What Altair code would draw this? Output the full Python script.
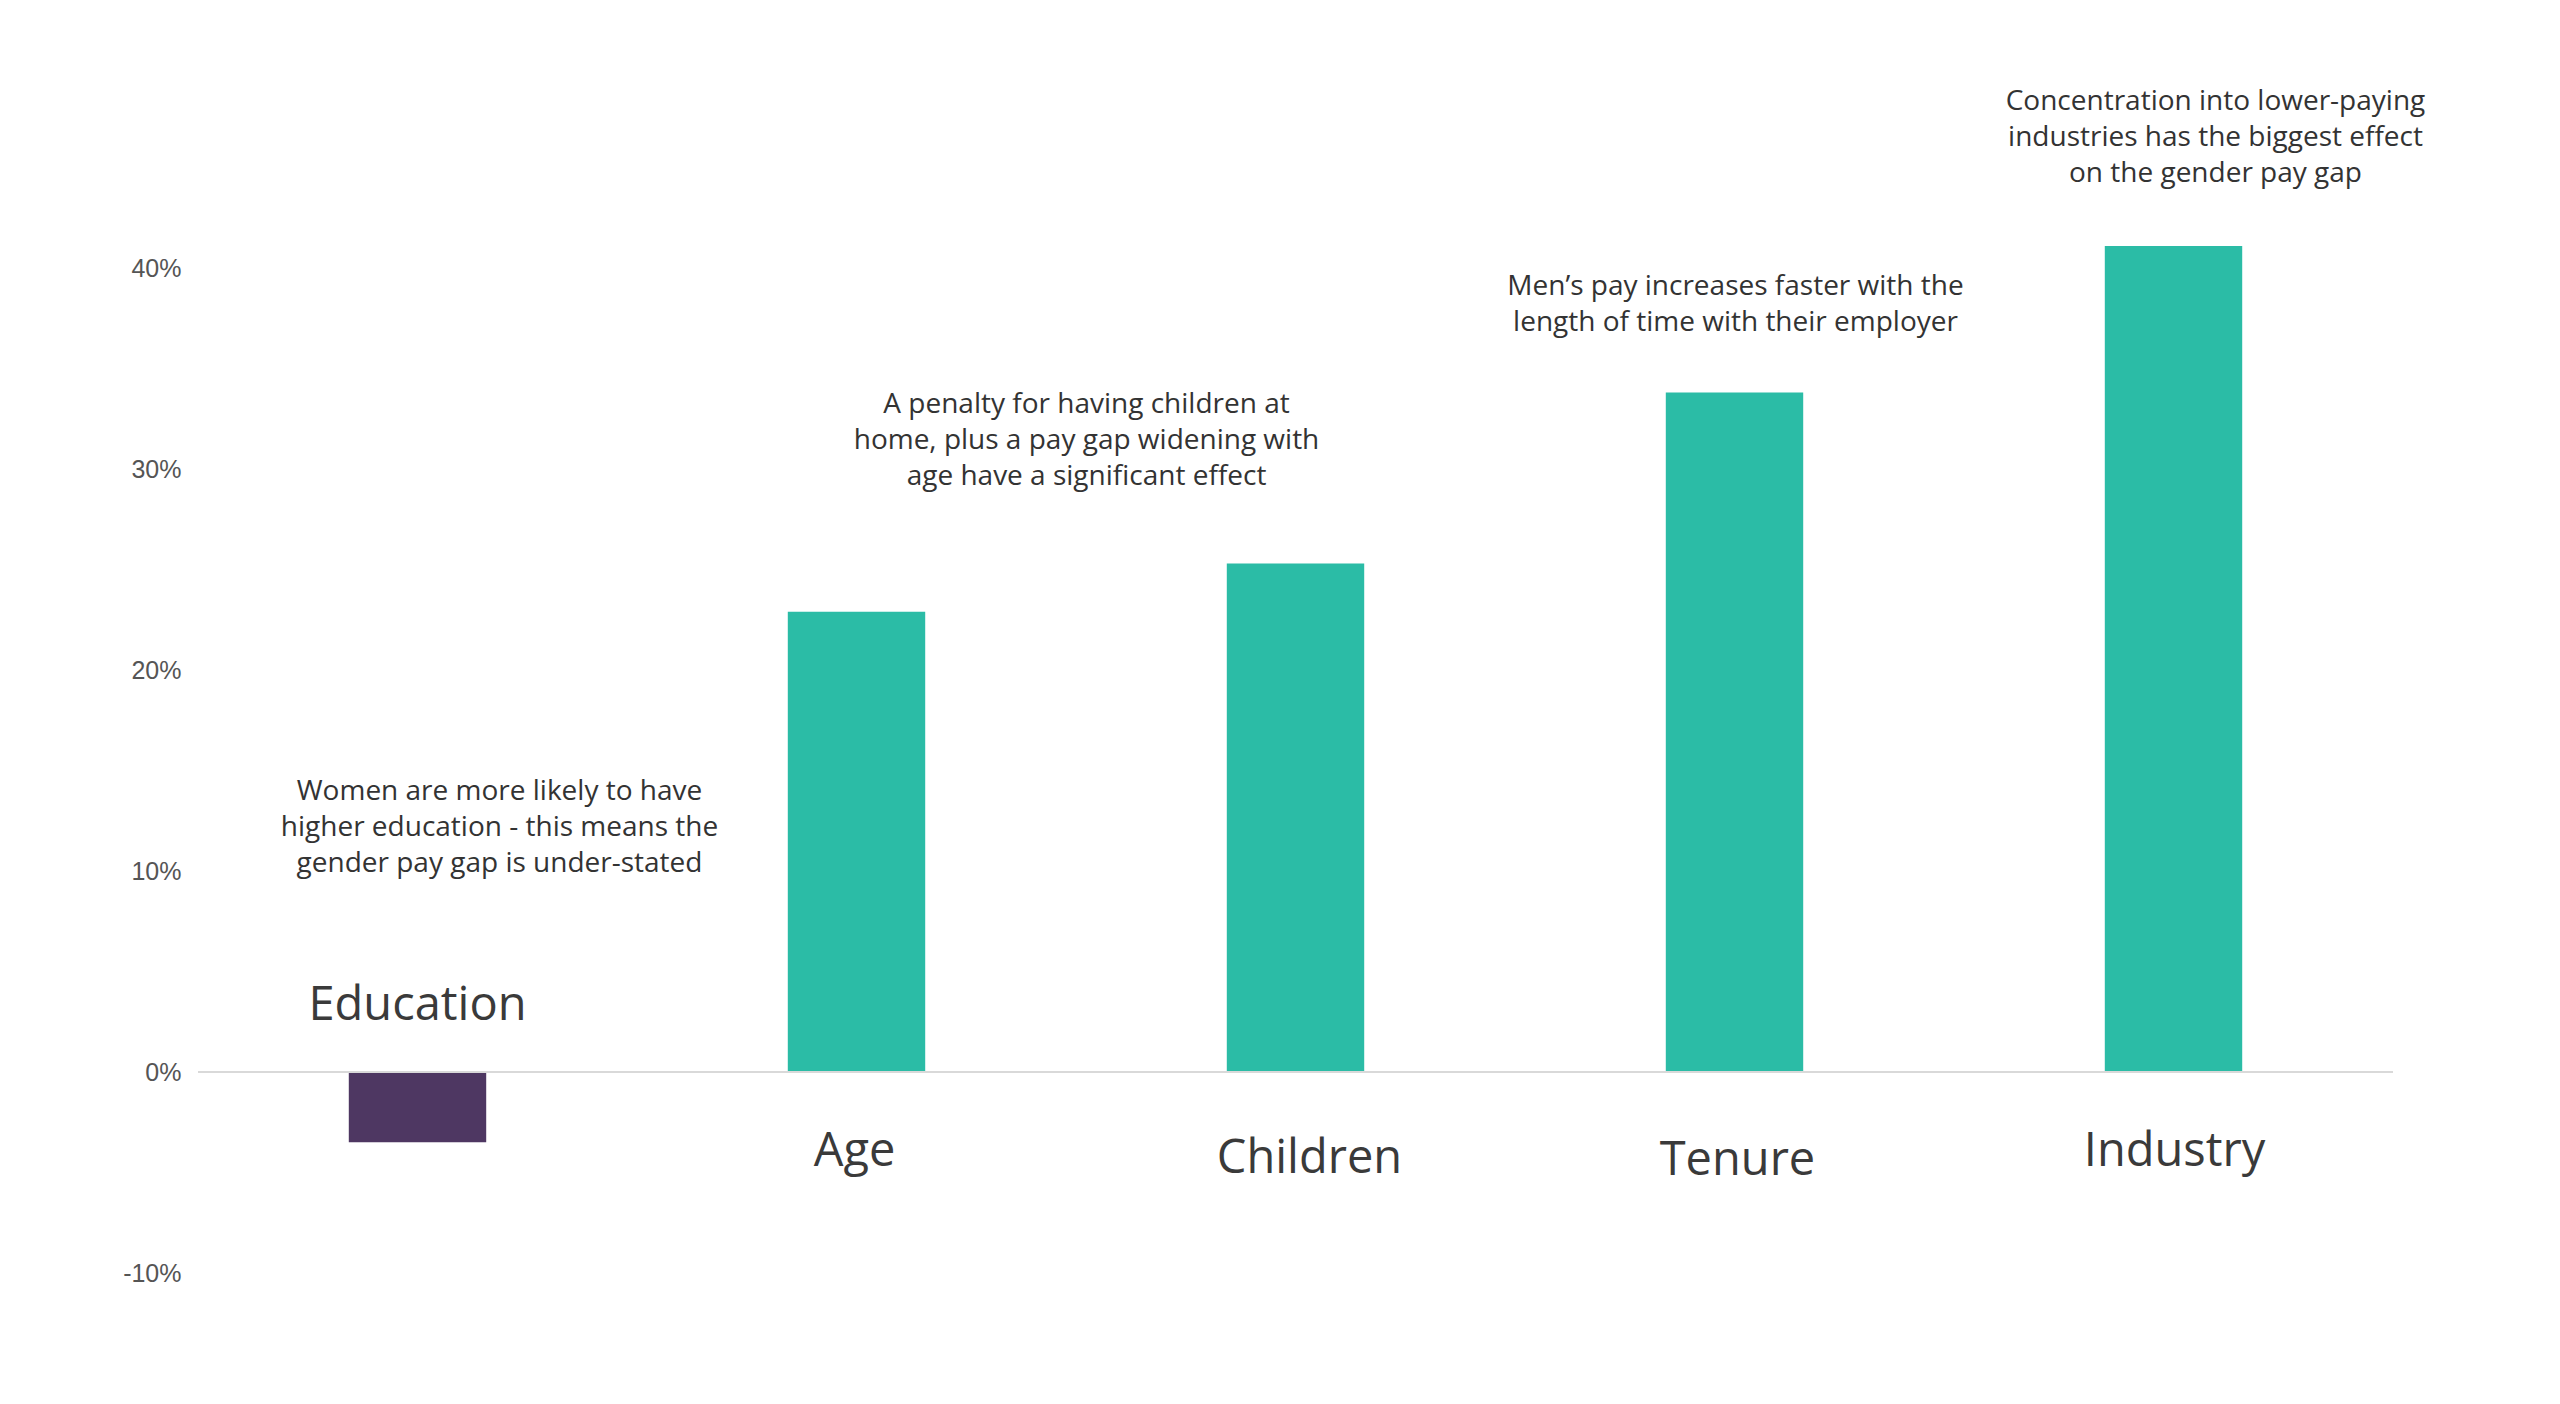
import altair as alt
import pandas as pd

categories = ["Education", "Age", "Children", "Tenure", "Industry"]
values = [-3.5, 22.9, 25.3, 33.8, 41.1]
label_y = [2.6, -4.7, -5.0, -5.1, -4.7]
y_ticks = [-10, 0, 10, 20, 30, 40]

note_anchor = ["Education", "Age", "Tenure", "Industry"]
note_y = [13.95, 33.2, 39.05, 48.25]
note_text = [
    ["Women are more likely to have", "higher education - this means the", "gender pay gap is under-stated"],
    ["A penalty for having children at", "home, plus a pay gap widening with", "age have a significant effect"],
    ["Men\u2019s pay increases faster with the", "length of time with their employer"],
    ["Concentration into lower-paying", "industries has the biggest effect", "on the gender pay gap"],
]

# layout / style
W, H = 2195, 1206
TEAL = "#2BBCA6"
PURPLE = "#4E3762"
label_dx = [0, -2, 14, 3, 1]
note_dx = [82, 230, 1, 42]
FONT = "Open Sans"

df = pd.DataFrame({"cat": categories, "val": values, "ly": label_y})
notes = pd.DataFrame({"cat": note_anchor, "ny": note_y,
                      "txt": ["\n".join(t) for t in note_text]})

xscale = alt.Scale(domain=categories, paddingInner=0.687, paddingOuter=0.3435)
yscale = alt.Scale(domain=[-10, 50], nice=False, zero=False)
yaxis = alt.Axis(values=y_ticks, labelExpr="datum.value + '%'", domain=False, ticks=False,
                 grid=False, labelPadding=17, labelFontSize=25, labelColor="#555555",
                 labelFont="Liberation Sans", title=None)

x = alt.X("cat:N", scale=xscale, axis=None)

bars = alt.Chart(df).mark_bar().encode(
    x=x,
    y=alt.Y("val:Q", scale=yscale, axis=yaxis),
    color=alt.Color("cat:N", scale=alt.Scale(domain=categories,
                                             range=[PURPLE, TEAL, TEAL, TEAL, TEAL]), legend=None),
)

zero = alt.Chart(pd.DataFrame({"z": [0]})).mark_rule(color="#d9d9d9", strokeWidth=2).encode(
    y=alt.Y("z:Q", scale=yscale, axis=yaxis)
)

layers = [bars, zero]
for c, dx in zip(categories, label_dx):
    layers.append(
        alt.Chart(df).transform_filter(alt.datum.cat == c).mark_text(
            font=FONT, fontSize=47, color="#3a3a3a", baseline="alphabetic", align="center", dx=dx
        ).encode(x=x, y=alt.Y("ly:Q", scale=yscale, axis=yaxis), text="cat:N")
    )

for c, dx in zip(note_anchor, note_dx):
    layers.append(
        alt.Chart(notes).transform_filter(alt.datum.cat == c).mark_text(
            font=FONT, fontSize=28, color="#333333", baseline="middle", align="center",
            lineBreak="\n", lineHeight=36, dx=dx
        ).encode(x=x, y=alt.Y("ny:Q", scale=yscale, axis=yaxis), text="txt:N")
    )

chart = alt.layer(*layers).properties(
    width=W, height=H,
    padding={"left": 190, "top": 59, "right": 100, "bottom": 60},
    autosize=alt.AutoSizeParams(type="none"),
).configure_view(stroke=None)

chart.save("out.html", embed_options={"renderer": "svg", "actions": False})
